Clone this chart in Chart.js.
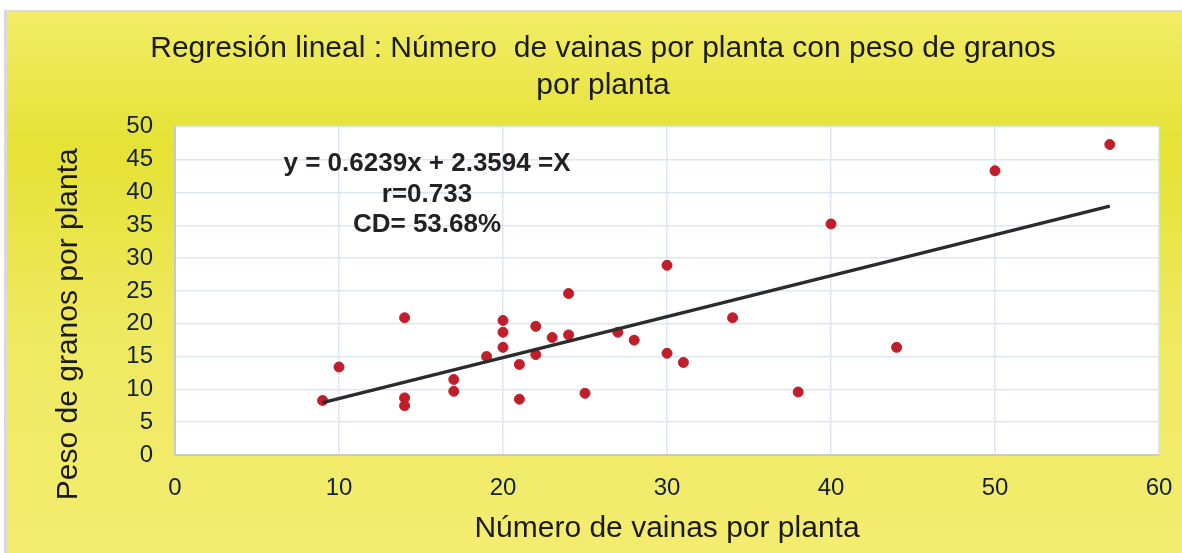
<!DOCTYPE html>
<html lang="es">
<head>
    <meta charset="UTF-8">
    <title>Regresión lineal</title>
    <script src="https://cdn.jsdelivr.net/npm/chart.js"></script>
    <style>
        html, body { margin: 0; padding: 0; background: #fff; overflow: hidden; }
    </style>
</head>
<body>
    <canvas id="regChart" width="1182" height="553"></canvas>
    <script>
        // datos
        const vainas = [9, 10, 14, 14, 14, 17, 17, 19, 20, 20, 20, 21, 21, 22, 22, 23, 24, 24, 25, 27, 28, 30, 30, 31, 34, 38, 40, 44, 50, 57];
        const pesoGranos = [8.3, 13.4, 20.9, 8.7, 7.5, 11.5, 9.7, 15.0, 20.5, 18.7, 16.4, 13.8, 8.5, 19.6, 15.3, 17.9, 24.6, 18.3, 9.4, 18.7, 17.5, 28.9, 15.5, 14.1, 20.9, 9.6, 35.2, 16.4, 43.3, 47.3];
        const pendiente = 0.6239;
        const intercepto = 2.3594;
        const tendenciaX = [9, 57];
        const anotacion = ['y = 0.6239x + 2.3594 =X', 'r=0.733', 'CD= 53.68%'];

        const puntos = vainas.map((v, i) => ({ x: v, y: pesoGranos[i] }));
        const tendencia = tendenciaX.map(x => ({ x: x, y: pendiente * x + intercepto }));

        const fuente = '"Liberation Sans", Arial, sans-serif';

        const fondo = {
            id: 'fondo',
            beforeDraw(chart) {
                const ctx = chart.ctx, w = chart.width, h = chart.height;
                const a = chart.chartArea;
                ctx.save();
                ctx.fillStyle = '#ffffff';
                ctx.fillRect(0, 0, w, h);
                ctx.fillStyle = '#d9d9d9';
                ctx.fillRect(4, 10, w - 4, h - 10);
                const g = ctx.createLinearGradient(0, 12, 0, h);
                g.addColorStop(0, '#f2ec66');
                g.addColorStop(0.25, '#e5e234');
                g.addColorStop(0.6, '#efe960');
                g.addColorStop(1, '#f3ec70');
                ctx.fillStyle = g;
                ctx.fillRect(7, 12, w - 7, h - 12);
                ctx.fillStyle = '#ffffff';
                ctx.fillRect(a.left, a.top, a.right - a.left, a.bottom - a.top);
                ctx.restore();
            },
            afterDatasetsDraw(chart) {
                const ctx = chart.ctx;
                ctx.save();
                ctx.font = 'bold 26px ' + fuente;
                ctx.fillStyle = '#222222';
                ctx.textAlign = 'center';
                ctx.textBaseline = 'middle';
                anotacion.forEach((t, i) => ctx.fillText(t, 427, 164 + i * 30.5));
                ctx.restore();
            }
        };

        const ctx = document.getElementById('regChart').getContext('2d');
        new Chart(ctx, {
            type: 'scatter',
            data: {
                datasets: [{
                    label: 'Tendencia',
                    type: 'line',
                    data: tendencia,
                    borderColor: '#2b2b2b',
                    borderWidth: 3.5,
                    pointRadius: 0,
                    fill: false,
                    order: 0
                }, {
                    label: 'Peso de granos',
                    data: puntos,
                    backgroundColor: '#c01f2a',
                    borderColor: '#c01f2a',
                    pointRadius: 5,
                    order: 1
                }]
            },
            options: {
                responsive: false,
                animation: false,
                devicePixelRatio: 1,
                layout: { padding: { left: 47, right: 23, top: 12, bottom: 0 } },
                plugins: {
                    legend: { display: false },
                    tooltip: { enabled: false },
                    title: {
                        display: true,
                        text: ['Regresión lineal : Número  de vainas por planta con peso de granos', 'por planta'],
                        color: '#1a1a1a',
                        font: { family: fuente, size: 30, weight: 'normal', lineHeight: 1.23 },
                        padding: { top: 18, bottom: 23 }
                    }
                },
                scales: {
                    x: {
                        type: 'linear',
                        min: 0,
                        max: 60,
                        ticks: { stepSize: 10, color: '#13203d', padding: 19, font: { family: fuente, size: 24 } },
                        grid: { color: '#dbe7f4', lineWidth: 1.5, drawTicks: false },
                        border: { color: '#c8c8c8', width: 2 },
                        title: {
                            display: true,
                            text: 'Número de vainas por planta',
                            color: '#1a1a1a',
                            font: { family: fuente, size: 30 },
                            padding: { top: 0, bottom: 6 }
                        },
                        afterFit(scale) {
                            scale.height = 98;
                            scale.paddingLeft = 0;
                            scale.paddingRight = 0;
                        }
                    },
                    y: {
                        min: 0,
                        max: 50,
                        ticks: { stepSize: 5, color: '#13203d', padding: 22, font: { family: fuente, size: 24 } },
                        grid: { color: '#dbe7f4', lineWidth: 1.5, drawTicks: false },
                        border: { color: '#c8c8c8', width: 2 },
                        title: {
                            display: true,
                            text: 'Peso de granos por planta' + '\u00a0'.repeat(8),
                            color: '#1a1a1a',
                            font: { family: fuente, size: 30 },
                            padding: { top: 4, bottom: 0 }
                        },
                        afterFit(scale) {
                            scale.width = 128;
                            scale.paddingTop = 0;
                            scale.paddingBottom = 0;
                        }
                    }
                }
            },
            plugins: [fondo]
        });
    </script>
</body>
</html>
